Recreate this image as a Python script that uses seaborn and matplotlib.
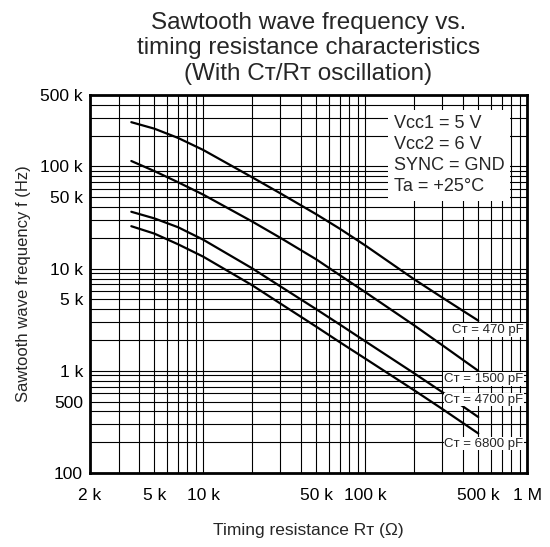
import matplotlib
matplotlib.use("Agg")
import matplotlib.pyplot as plt
import matplotlib.ticker as mticker
import numpy as np
import pandas as pd
import seaborn as sns

# Timing resistance RT (ohm) at the points
rt_ohm = [3600, 5000, 7000, 10000, 20000, 30000, 50000, 70000, 100000, 200000, 300000, 500000]

# Sawtooth frequency (Hz) per timing capacitor
freq_470pf = [271000, 234000, 190000, 145000, 78500, 54500, 34000, 24500, 16900, 7900, 5200, 3100]
freq_1500pf = [113000, 90000, 70000, 53000, 29000, 20000, 12300, 8600, 5900, 2800, 1780, 1000]
freq_4700pf = [36000, 31000, 25400, 19200, 10100, 6700, 4000, 2830, 1950, 950, 618, 353]
freq_6800pf = [26000, 22000, 17300, 13100, 6900, 4550, 2700, 1900, 1320, 648, 423, 244]

cap_labels = ["470 pF", "1500 pF", "4700 pF", "6800 pF"]

x_ticks = [2e3, 5e3, 1e4, 5e4, 1e5, 5e5, 1e6]
x_tick_labels = ["2 k", "5 k", "10 k", "50 k", "100 k", "500 k", "1 M"]
y_ticks = [100, 500, 1e3, 5e3, 1e4, 5e4, 1e5, 5e5]
y_tick_labels = ["100", "500", "1 k", "5 k", "10 k", "50 k", "100 k", "500 k"]

conditions = ["Vᴄᴄ1 = 5 V", "Vᴄᴄ2 = 6 V", "SYNC = GND", "Ta = +25°C"]


def build_frame() -> pd.DataFrame:
    series = [freq_470pf, freq_1500pf, freq_4700pf, freq_6800pf]
    frames = []
    for label, freq in zip(cap_labels, series):
        frames.append(pd.DataFrame({"rt": rt_ohm, "freq": freq, "cap": label}))
    return pd.concat(frames, ignore_index=True)


sns.set_style("white")
plt.rcParams["font.family"] = ["Liberation Sans", "DejaVu Sans"]

df = build_frame()

fig = plt.figure(figsize=(5.5, 5.47), dpi=100)
ax = fig.add_axes([90 / 550, 1 - 473 / 547, 437 / 550, 378 / 547])

sns.lineplot(
    data=df, x="rt", y="freq", hue="cap", units="cap", estimator=None,
    palette=["black"] * 4, linewidth=1.6, legend=False, ax=ax, zorder=3,
)

ax.set_xscale("log")
ax.set_yscale("log")
ax.set_xlim(2e3, 1e6)
ax.set_ylim(100, 5e5)

ax.set_xticks(x_ticks, labels=x_tick_labels)
ax.set_yticks(y_ticks, labels=y_tick_labels)
ax.xaxis.set_minor_locator(mticker.LogLocator(base=10, subs=np.arange(1, 10)))
ax.yaxis.set_minor_locator(mticker.LogLocator(base=10, subs=np.arange(1, 10)))
ax.xaxis.set_minor_formatter(mticker.NullFormatter())
ax.yaxis.set_minor_formatter(mticker.NullFormatter())
ax.tick_params(which="both", length=0, labelsize=12.5, colors="black")
ax.tick_params(axis="x", pad=11)
ax.tick_params(axis="y", pad=5)
ax.grid(which="both", color="black", linewidth=0.8)
ax.set_axisbelow(True)
for spine in ax.spines.values():
    spine.set_color("black")
    spine.set_linewidth(2)

ax.set_xlabel("Timing resistance Rᴛ (Ω)", fontsize=12.5, labelpad=14)
ax.set_ylabel("Sawtooth wave frequency f (Hz)", fontsize=12, labelpad=7)
ax.set_title(
    "Sawtooth wave frequency vs.\ntiming resistance characteristics\n(With Cᴛ/Rᴛ oscillation)",
    fontsize=17.5, linespacing=1.2, pad=11,
)

ax.text(
    0.695, 0.946, "\n".join(conditions), transform=ax.transAxes,
    fontsize=13, ha="left", va="top", linespacing=1.3, zorder=5,
    bbox=dict(facecolor="white", edgecolor="none", pad=4),
)

label_y = [0.379, 0.248, 0.194, 0.0775]
for lab, yy in zip(cap_labels, label_y):
    ax.text(
        0.992, yy, f"Cᴛ = {lab}", transform=ax.transAxes, fontsize=9.5,
        ha="right", va="center", zorder=5,
        bbox=dict(facecolor="white", edgecolor="none", pad=0.6),
    )

fig.savefig("out.png", dpi=100)
